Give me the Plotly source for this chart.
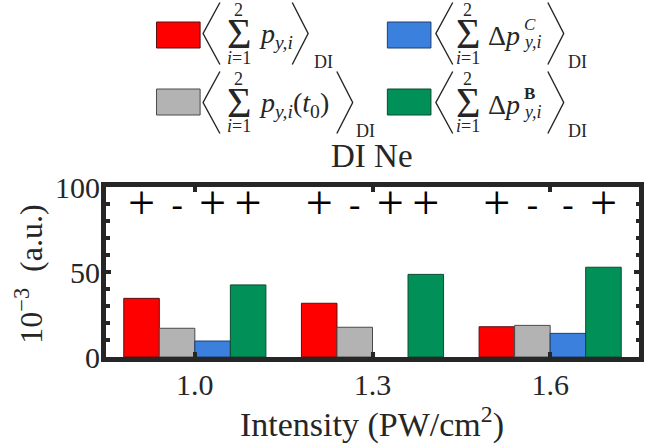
import plotly.graph_objects as go

# ---- data -------------------------------------------------------------
intensities = ["1.0", "1.3", "1.6"]          # PW/cm^2
sum_py      = [34.5, 31.6, 17.8]             # <sum p_y,i>_DI
sum_py_t0   = [16.9, 17.5, 18.6]             # <sum p_y,i(t0)>_DI
sum_dp_C    = [9.4, 0.0, 13.9]               # <sum dp^C_y,i>_DI
sum_dp_B    = [42.4, 48.6, 52.8]             # <sum dp^B_y,i>_DI

sign_py    = ["+", "+", "+"]
sign_py_t0 = ["-", "-", "-"]
sign_dp_C  = ["+", "+", "-"]
sign_dp_B  = ["+", "+", "+"]

series_values = [sum_py, sum_py_t0, sum_dp_C, sum_dp_B]
series_signs = [sign_py, sign_py_t0, sign_dp_C, sign_dp_B]
series_names = ["sum p_y,i", "sum p_y,i(t0)", "sum dp^C_y,i", "sum dp^B_y,i"]
fill_colors = ["#FF0000", "#B3B3B3", "#3C80DD", "#009058"]
edge_colors = ["#5a1010", "#4a4a4a", "#1d3f70", "#0b4a30"]

# ---- canvas geometry (pixels) -------------------------------------------
W, H = 648, 444
ML, MR, MT, MB = 106, 4, 187, 87
PW, PH = W - ML - MR, H - MT - MB
INK = "#262626"
SERIF = "Liberation Serif"

def px(x):
    return (x - ML) / PW

def py(y):
    return (H - MB - y) / PH

bar_width = 0.2
bar_offsets = [-0.4, -0.2, 0.0, 0.2]
sign_level = 88

fig = go.Figure()
xs = list(range(len(intensities)))
for vals, name, fc, ec, off in zip(series_values, series_names, fill_colors,
                                   edge_colors, bar_offsets):
    fig.add_trace(go.Bar(
        x=xs, y=vals, name=name, width=bar_width, offset=off,
        marker=dict(color=fc,
                    line=dict(color=ec, width=[1 if v > 0 else 0 for v in vals])),
        showlegend=False,
    ))

# sign markers above every bar
for signs, off in zip(series_signs, bar_offsets):
    fig.add_trace(go.Scatter(
        x=[i + off + bar_width / 2 for i in xs],
        y=[sign_level] * len(xs),
        mode="text", text=signs, textposition="middle center",
        textfont=dict(family=SERIF, color="#000000",
                      size=[48 if s == "+" else 34 for s in signs]),
        showlegend=False, hoverinfo="skip",
    ))

axis_common = dict(
    showline=True, linewidth=5, linecolor=INK, mirror="ticks",
    ticks="inside", tickwidth=4, tickcolor=INK, showgrid=False, zeroline=False,
    tickfont=dict(family=SERIF, size=30, color=INK),
)
fig.update_xaxes(range=[-0.5, 2.5], tickmode="array", tickvals=xs,
                 ticktext=intensities, ticklen=5, ticklabelstandoff=-3,
                 **axis_common)
fig.update_yaxes(range=[0, 100], tickvals=[0, 50, 100], ticklen=5,
                 ticklabelstandoff=-5,
                 minor=dict(dtick=10, ticks="inside", ticklen=3.5, tickwidth=4,
                            tickcolor=INK),
                 **axis_common)

ann = []
shapes = []

def text(x, y, s, size, xanchor="center", angle=0):
    ann.append(dict(x=px(x), y=py(y), xref="paper", yref="paper", text=s,
                    showarrow=False, xanchor=xanchor, yanchor="middle",
                    textangle=angle,
                    font=dict(family=SERIF, size=size, color=INK)))

# titles
text(374, 156, "DI Ne", 33)
text(374, 422, "Intensity (PW/cm<sup>2</sup>)", 34)
text(28, 274, "10<sup>\u22123</sup>  (a.u.)", 32, angle=-90)

# ---- legend: boxes and math-style labels --------------------------------
legend_bodies = [
    "<i>p</i><sub><i>y,i</i></sub>",
    "<i>p</i><sub><i>y,i</i></sub>(<i>t</i><sub>0</sub>)",
    "\u0394<i>p</i>",
    "\u0394<i>p</i>",
]
legend_sups = [None, None, "<i>C</i>", "<b>B</b>"]

# per entry: box x0, box y0, left bracket x, sigma x, body x, right bracket x, DI x, row centre
entry_layout = [
    (157, 22, 204, 240, 258, 294, 326, 33.5),
    (157, 89, 204, 240, 258, 339, 368, 102.5),
    (390, 22, 439, 471, 490, 552, 582, 33.5),
    (390, 89, 439, 471, 490, 552, 582, 102.5),
]

for k, (bx, by, lbx, sx, tx, rbx, dix, yc) in enumerate(entry_layout):
    shapes.append(dict(type="rect", xref="paper", yref="paper",
                       x0=px(bx), x1=px(bx + 44), y0=py(by), y1=py(by + 26),
                       fillcolor=fill_colors[k],
                       line=dict(color=edge_colors[k], width=1)))
    top, bot = yc - 31, yc + 31
    shapes.append(dict(type="path", xref="paper", yref="paper",
                       path=f"M {px(lbx + 17)},{py(top)} L {px(lbx)},{py(yc)} L {px(lbx + 17)},{py(bot)}",
                       line=dict(color=INK, width=1.4)))
    shapes.append(dict(type="path", xref="paper", yref="paper",
                       path=f"M {px(rbx)},{py(top)} L {px(rbx + 16)},{py(yc)} L {px(rbx)},{py(bot)}",
                       line=dict(color=INK, width=1.4)))
    text(sx, yc, "\u03A3", 42)
    text(sx, yc - 24, "2", 18)
    text(sx, yc + 24, "<i>i</i>=1", 18)
    text(tx, yc + 2, legend_bodies[k], 28, xanchor="left")
    if legend_sups[k]:
        text(tx + 35, yc + 9, "<i>y,i</i>", 18, xanchor="left")
        text(tx + 36, yc - 9, legend_sups[k], 17, xanchor="left")
    text(dix, yc + 28, "DI", 18)

fig.update_layout(
    width=W, height=H,
    margin=dict(l=ML, r=MR, t=MT, b=MB, pad=0),
    paper_bgcolor="white", plot_bgcolor="white",
    barmode="overlay",
    annotations=ann, shapes=shapes,
    font=dict(family=SERIF, color=INK),
)

fig.write_html("out.html")
